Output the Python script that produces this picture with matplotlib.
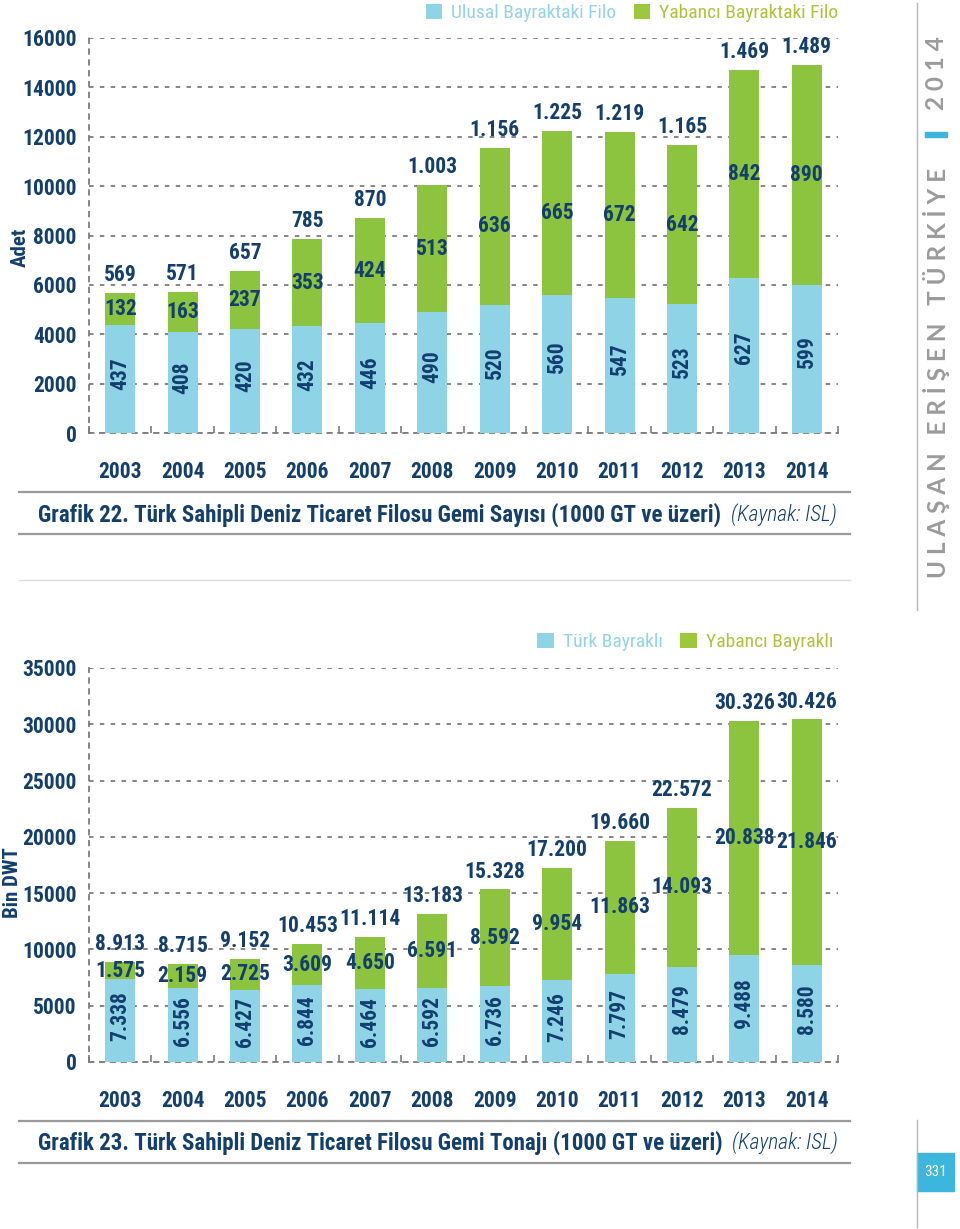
import os
import numpy as np
import matplotlib
matplotlib.use("Agg")
import matplotlib.pyplot as plt
from matplotlib import font_manager as fm
from matplotlib.patches import Patch, Rectangle
from matplotlib.lines import Line2D

# ---------------- data ----------------
years = [2003, 2004, 2005, 2006, 2007, 2008, 2009, 2010, 2011, 2012, 2013, 2014]

# Grafik 22 – ship counts
ulusal_filo = [437, 408, 420, 432, 446, 490, 520, 560, 547, 523, 627, 599]
yabanci_filo = [132, 163, 237, 353, 424, 513, 636, 665, 672, 642, 842, 890]
count_scale = 10  # the original draws counts x10 on its 0-16000 axis

# Grafik 23 – tonnage (bin DWT)
turk_bayrakli = [7338, 6556, 6427, 6844, 6464, 6592, 6736, 7246, 7797, 8479, 9488, 8580]
yabanci_bayrakli = [1575, 2159, 2725, 3609, 4650, 6591, 8592, 9954, 11863, 14093, 20838, 21846]

legend1 = ["Ulusal Bayraktaki Filo", "Yabancı Bayraktaki Filo"]
legend2 = ["Türk Bayraklı", "Yabancı Bayraklı"]
title1 = "Grafik 22. Türk Sahipli Deniz Ticaret Filosu Gemi Sayısı (1000 GT ve üzeri)"
title2 = "Grafik 23. Türk Sahipli Deniz Ticaret Filosu Gemi Tonajı (1000 GT ve üzeri)"
source = "(Kaynak: ISL)"

# ---------------- style ----------------
NAVY = "#123f6e"
BLUE = "#8fd3e6"
GREEN = "#8cc43f"
LEG_BLUE = "#93d3e6"
LEG_GREEN = "#aac53b"
GRID = "#7d7d7d"
CYAN = "#3cb6dc"
GREY_TXT = "#9b9b9b"

W, H = 960, 1229


def font_file(names):
    avail = {os.path.basename(f.fname): f.fname for f in fm.fontManager.ttflist}
    for n in names:
        if n in avail:
            return avail[n]
    return None


BOLD_FILE = font_file(["RobotoCondensed-Bold.ttf", "Roboto_Condensed-Bold.ttf",
                       "LiberationSansNarrow-Bold.ttf", "OpenSans_Condensed-Bold.ttf",
                       "DejaVuSansCondensed-Bold.ttf"])
REG_FILE = font_file(["RobotoCondensed-Regular.ttf", "Roboto_Condensed-Regular.ttf",
                      "LiberationSansNarrow-Regular.ttf", "OpenSans_Condensed-Regular.ttf",
                      "DejaVuSansCondensed.ttf"])
ITAL_FILE = font_file(["RobotoCondensed-LightItalic.ttf", "RobotoCondensed-Italic.ttf",
                       "LiberationSansNarrow-Italic.ttf", "DejaVuSansCondensed-Oblique.ttf"])


def fp(kind, size):
    f = {"bold": BOLD_FILE, "reg": REG_FILE, "ital": ITAL_FILE}[kind]
    if f:
        return fm.FontProperties(fname=f, size=size)
    if kind == "bold":
        return fm.FontProperties(family="DejaVu Sans", weight="bold", stretch="condensed", size=size * 0.85)
    if kind == "ital":
        return fm.FontProperties(family="DejaVu Sans", style="italic", size=size * 0.85)
    return fm.FontProperties(family="DejaVu Sans", size=size * 0.85)


def tr(v):
    return f"{v:,}".replace(",", ".")


def fx(px):
    return px / W


def fy(py):
    return 1 - py / H


fig = plt.figure(figsize=(W / 100, H / 100), dpi=100)


def draw_chart(ax, base, foreign, scale, ymax, ystep):
    x = np.arange(len(years))
    b = np.array(base, dtype=float) * scale
    f = np.array(foreign, dtype=float) * scale
    ax.bar(x, b, width=0.48, color=BLUE, zorder=3)
    ax.bar(x, f, bottom=b, width=0.48, color=GREEN, zorder=3)
    ax.set_xlim(-0.5, len(years) - 0.5)
    ax.set_ylim(0, ymax)
    ax.set_yticks(np.arange(0, ymax + 1, ystep))
    ax.yaxis.grid(True, linestyle=(0, (2.5, 3.5)), color=GRID, lw=1.3, zorder=0)
    ax.set_axisbelow(True)
    for s in ["top", "right"]:
        ax.spines[s].set_visible(False)
    for s in ["left", "bottom"]:
        ax.spines[s].set_linestyle((0, (2.5, 3.5)))
        ax.spines[s].set_color(GRID)
        ax.spines[s].set_linewidth(1.3)
    ax.set_xticks(x)
    ax.set_xticklabels([str(y) for y in years])
    ax.set_xticks(np.arange(-0.5, len(years) + 0.5, 1), minor=True)
    ax.tick_params(axis="x", which="major", length=0, pad=20)
    ax.tick_params(axis="x", which="minor", direction="in", length=5, color=GRID, width=1.2)
    ax.tick_params(axis="y", length=0, pad=9)
    for lab in ax.get_xticklabels() + ax.get_yticklabels():
        lab.set_fontproperties(fp("bold", 15.5))
        lab.set_color(NAVY)
    for i in range(len(years)):
        tot = base[i] + foreign[i]
        ax.annotate(tr(tot), (x[i], b[i] + f[i]), xytext=(0, 5), textcoords="offset points",
                    ha="center", va="bottom", color=NAVY, fontproperties=fp("bold", 15.5), zorder=5)
        ax.text(x[i], b[i] + f[i] / 2, tr(foreign[i]), ha="center", va="center",
                color=NAVY, fontproperties=fp("bold", 15.5), zorder=5)
        ax.text(x[i], b[i] * 0.55, tr(base[i]), ha="center", va="center", rotation=90,
                color=NAVY, fontproperties=fp("bold", 15.5), zorder=5)


def legend(labels, right_px, y_px):
    handles = [Patch(facecolor=BLUE, edgecolor="none"), Patch(facecolor="#9cc93b", edgecolor="none")]
    lg = fig.legend(handles, labels, loc="center right", bbox_to_anchor=(fx(right_px), fy(y_px)),
                    ncol=2, frameon=False, handlelength=0.85, handleheight=0.85,
                    handletextpad=0.45, columnspacing=0.9, prop=fp("reg", 14),
                    borderaxespad=0, borderpad=0)
    for t, c in zip(lg.get_texts(), [LEG_BLUE, LEG_GREEN]):
        t.set_color(c)


def caption(text, y_px, line_top, line_bot):
    fig.add_artist(Line2D([fx(19), fx(850)], [fy(line_top)] * 2, transform=fig.transFigure,
                          color="#9a9a9a", lw=1.6))
    fig.add_artist(Line2D([fx(19), fx(850)], [fy(line_bot)] * 2, transform=fig.transFigure,
                          color="#9a9a9a", lw=1.6))
    t = fig.text(fx(38), fy(y_px), text, ha="left", va="center", color=NAVY,
                 fontproperties=fp("bold", 16.5))
    plt.annotate(source, xy=(1, 0.5), xycoords=t, xytext=(7, 0), textcoords="offset points",
                 ha="left", va="center", color=NAVY, fontproperties=fp("ital", 15.5),
                 annotation_clip=False)


# ---- chart 1 ----
ax1 = fig.add_axes([fx(89), fy(433), fx(838) - fx(89), fy(38) - fy(433)])
draw_chart(ax1, ulusal_filo, yabanci_filo, count_scale, 16000, 2000)
legend(legend1, 838, 13)
fig.text(fx(20), fy(247), "Adet", rotation=90, ha="center", va="center", color=NAVY,
         fontproperties=fp("bold", 15))
caption(title1, 515, 492, 534)
fig.add_artist(Line2D([fx(19), fx(850)], [fy(580)] * 2, transform=fig.transFigure,
                      color="#dddddd", lw=1.0))

# ---- chart 2 ----
ax2 = fig.add_axes([fx(89), fy(1062), fx(838) - fx(89), fy(668) - fy(1062)])
draw_chart(ax2, turk_bayrakli, yabanci_bayrakli, 1, 35000, 5000)
legend(legend2, 833, 642)
fig.text(fx(12), fy(883), "Bin DWT", rotation=90, ha="center", va="center", color=NAVY,
         fontproperties=fp("bold", 15))
caption(title2, 1143, 1121, 1163)

# ---- page decorations ----
fig.add_artist(Line2D([fx(917)] * 2, [fy(3), fy(610)], transform=fig.transFigure,
                      color="#b5b5b5", lw=1.0))
fig.add_artist(Line2D([fx(917)] * 2, [fy(1120), fy(1227)], transform=fig.transFigure,
                      color="#b5b5b5", lw=1.0))
fig.text(fx(937), fy(578), "U L A Ş A N   E R İ Ş E N   T Ü R K İ Y E", rotation=90,
         ha="center", va="bottom", color=GREY_TXT, fontsize=17.5, family="Lato",
         fontweight="bold")
fig.add_artist(Rectangle((fx(925), fy(137)), fx(947) - fx(925), fy(132) - fy(137),
                         transform=fig.transFigure, color=CYAN))
fig.text(fx(937), fy(110), "2 0 1 4", rotation=90, ha="center", va="bottom",
         color=GREY_TXT, fontsize=17.5, family="Lato", fontweight="bold")
fig.add_artist(Rectangle((fx(917), fy(1191)), fx(954) - fx(917), fy(1153) - fy(1191),
                         transform=fig.transFigure, color=CYAN))
fig.text(fx(935.5), fy(1172), "331", ha="center", va="center", color="white",
         fontproperties=fp("reg", 11))

fig.savefig("out.png", dpi=100)
